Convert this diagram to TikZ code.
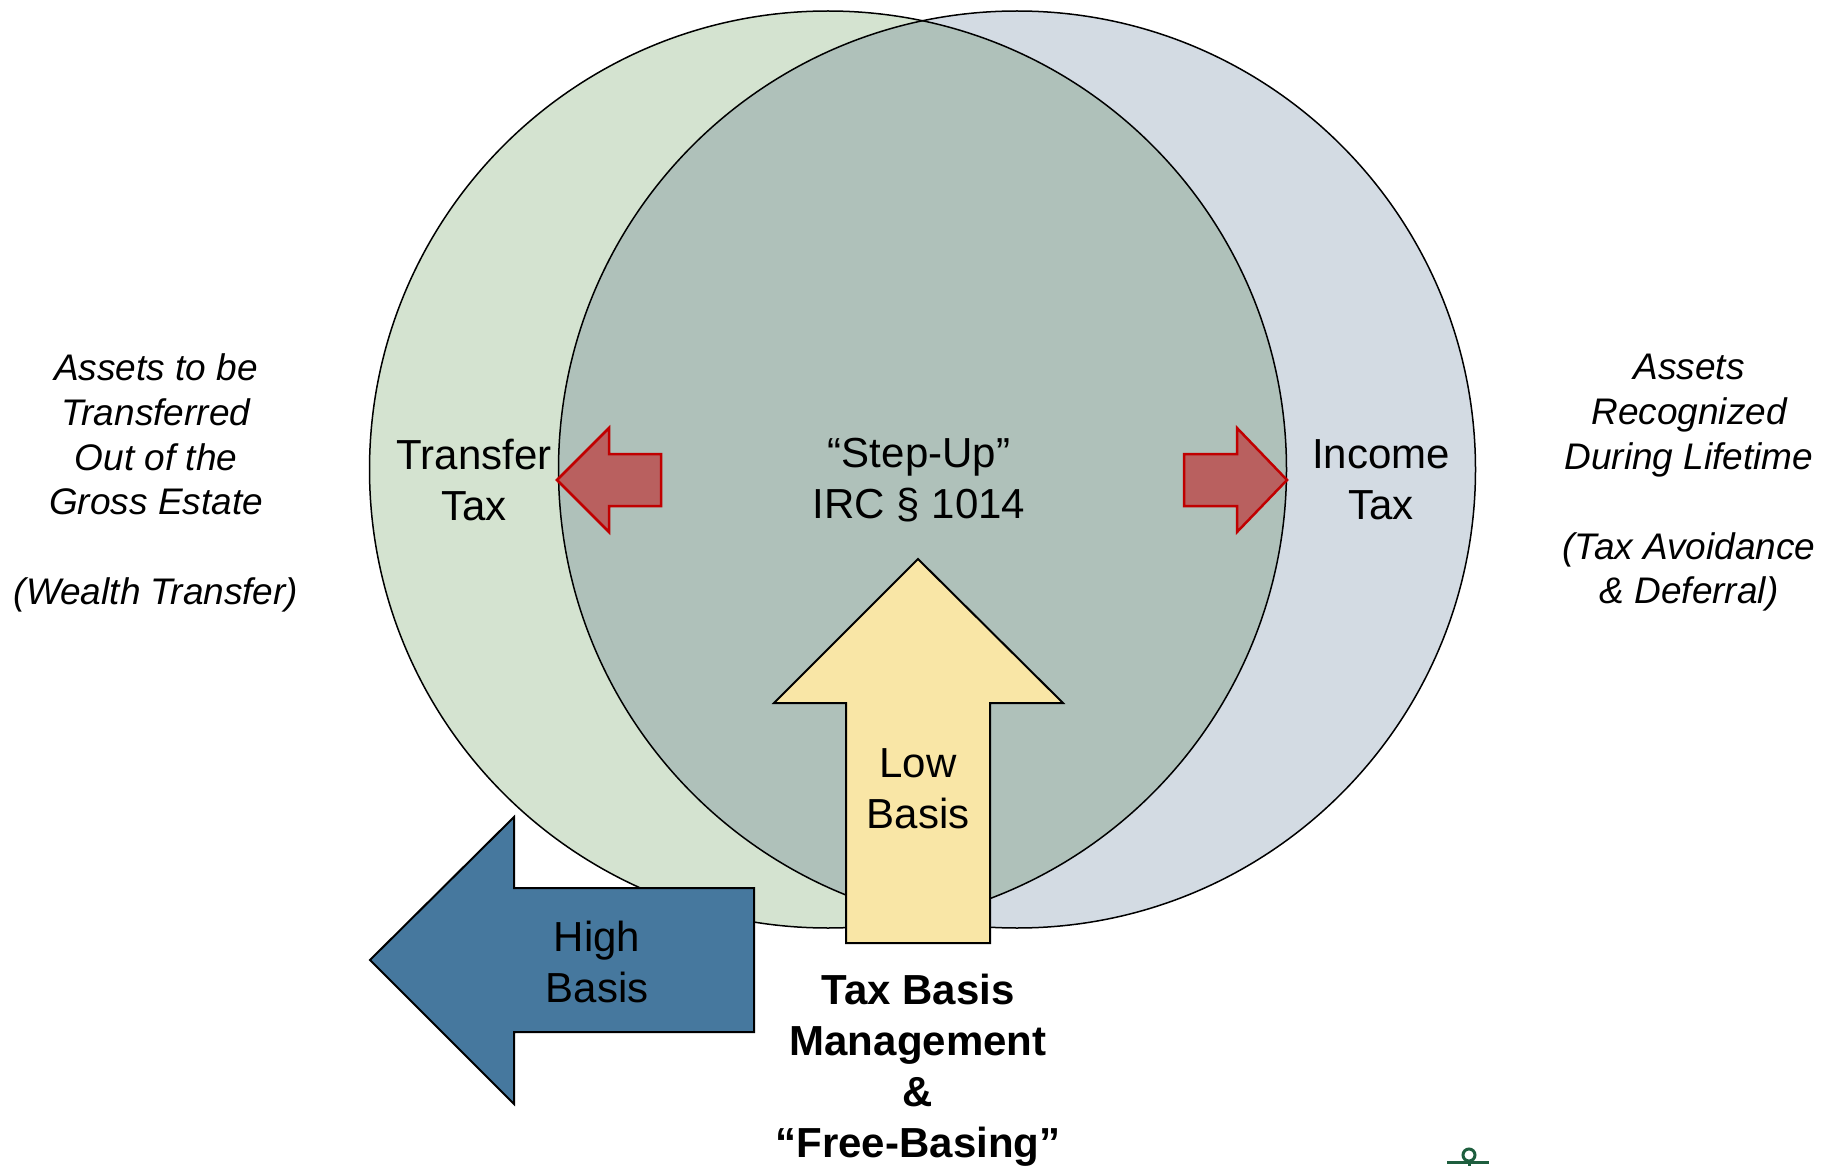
\documentclass[tikz,border=0pt]{standalone}
\usepackage{fontspec}
\setmainfont{Liberation Sans}
\definecolor{leftgreen}{HTML}{D4E3D0}
\definecolor{rightgrey}{HTML}{D3DBE3}
\definecolor{overlap}{HTML}{AFC1BA}
\definecolor{redfill}{HTML}{B9605F}
\definecolor{redline}{HTML}{C00000}
\definecolor{lowyellow}{HTML}{F9E6A6}
\definecolor{highblue}{HTML}{46789E}
\definecolor{logogreen}{HTML}{1E5E3E}
\begin{document}
\begin{tikzpicture}[x=1pt, y=-1pt,
		maintext/.style={align=center, font=\fontsize{42}{51}\selectfont},
		sidetext/.style={align=center, font=\fontsize{37}{44.8}\selectfont\itshape},
		boldtext/.style={align=center, font=\fontsize{42}{51}\selectfont\bfseries},
		redarrow/.style={fill=redfill, draw=redline, line width=2.5pt, line join=miter},
		blockarrow/.style={draw=black, line width=2pt, line join=miter}]
		\useasboundingbox (0,0) rectangle (1826,1166);
		% the two circles
		\fill[leftgreen] (828,469.5) circle (458.5pt);
		\fill[rightgrey] (1017,469.5) circle (458.5pt);
		\begin{scope}
			\clip (828,469.5) circle (458.5pt);
			\fill[overlap] (1017,469.5) circle (458.5pt);
		\end{scope}
		\draw[line width=1.5pt] (828,469.5) circle (458.5pt);
		\draw[line width=1.5pt] (1017,469.5) circle (458.5pt);
		% the red arrows
		\draw[redarrow] (557,480) -- ++(52,-52) -- ++(0,26) -- ++(52,0) -- ++(0,52) -- ++(-52,0) -- ++(0,26) -- cycle;
		\draw[redarrow] (1287,480) -- ++(-50,-52) -- ++(0,26) -- ++(-53,0) -- ++(0,52) -- ++(53,0) -- ++(0,26) -- cycle;
		% the low basis arrow
		\draw[blockarrow, fill=lowyellow] (918,559) -- (1063,703) -- (990,703) -- (990,943) -- (846,943) -- (846,703) -- (774,703) -- cycle;
		% the high basis arrow
		\draw[blockarrow, fill=highblue] (370,960) -- (514,817) -- (514,888) -- (754,888) -- (754,1032) -- (514,1032) -- (514,1104) -- cycle;
		% texts
		\node[maintext] (transfer) at (474,480) {Transfer\\Tax};
		\node[maintext] (stepup) at (919,480) {“Step-Up”\\IRC § 1014};
		\node[maintext] (income) at (1381,480) {Income\\Tax};
		\node[sidetext] (assetsout) at (156,483) {Assets to be\\Transferred\\Out of the\\Gross Estate\\[44.8pt](Wealth Transfer)};
		\node[sidetext] (assetslife) at (1689,483) {Assets\\Recognized\\During Lifetime\\[44.8pt](Tax Avoidance\\\& Deferral)};
		\node[maintext] (highbasis) at (597,962) {High\\Basis};
		\node[maintext] (lowbasis) at (918,789) {Low\\Basis};
		\node[boldtext] (basismgmt) at (918,1070) {Tax Basis\\Management\\\&\\“Free-Basing”};
		% logo at the edge
		\draw[logogreen, line width=3pt] (1447,1162) -- (1489,1162);
		\draw[logogreen, line width=3pt] (1469,1162) -- (1469,1166);
		\draw[logogreen, line width=3pt, fill=white] (1469,1155) circle (6pt);
	\end{tikzpicture}
\end{document}
